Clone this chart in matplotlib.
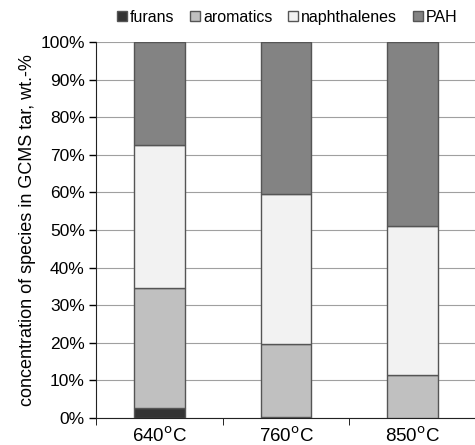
import matplotlib
matplotlib.use("Agg")
import matplotlib.pyplot as plt
import numpy as np

plt.rcParams['font.family'] = ['Liberation Sans', 'DejaVu Sans']

categories = ["640$^{\\mathrm{o}}$C", "760$^{\\mathrm{o}}$C", "850$^{\\mathrm{o}}$C"]
furans = [2.7, 0.3, 0.0]
aromatics = [31.8, 19.4, 11.5]
naphthalenes = [38.2, 39.8, 39.5]
pah = [27.3, 40.5, 49.0]
series = [("furans", furans, "#333333"), ("aromatics", aromatics, "#c0c0c0"),
          ("naphthalenes", naphthalenes, "#f2f2f2"), ("PAH", pah, "#838383")]

fig = plt.figure(figsize=(4.75, 4.45), dpi=100)
ax = fig.add_axes([0.202, 0.0607, 0.80, 0.845])
x = np.arange(len(categories))
bottom = np.zeros(len(categories))
handles = []
for name, vals, col in series:
    b = ax.bar(x, vals, 0.4, bottom=bottom, color=col, edgecolor="#555555", linewidth=1.0, label=name, zorder=3)
    handles.append(b)
    bottom += np.array(vals)

ax.set_xlim(-0.5, 2.5)
ax.set_ylim(0, 100)
ax.set_yticks(np.arange(0, 101, 10))
ax.set_yticklabels([f"{v}%" for v in range(0, 101, 10)], fontsize=12.5)
ax.yaxis.grid(True, color="#a0a0a0", linewidth=0.8, zorder=0)
ax.set_xticks(x)
ax.set_xticklabels(categories, fontsize=13.5)
ax.tick_params(axis='x', length=0, pad=6)
ax.set_xticks([-0.5, 0.5, 1.5], minor=True)
ax.tick_params(axis='x', which='minor', length=5, direction='out')
ax.tick_params(axis='y', length=5, direction='out', width=1, pad=3)
for s in ["top", "right"]:
    ax.spines[s].set_visible(False)
ax.spines["left"].set_color("#222222")
ax.spines["bottom"].set_color("#222222")
ax.set_ylabel("concentration of species in GCMS tar, wt.-%", fontsize=13, labelpad=3)

fig.legend(handles=handles, labels=[s[0] for s in series], loc="upper center",
           bbox_to_anchor=(0.605, 1.01), ncol=4, frameon=False, fontsize=11.5,
           handlelength=0.6, handleheight=0.6, handletextpad=0.2, columnspacing=1.0)

fig.savefig("out.png", dpi=100)
